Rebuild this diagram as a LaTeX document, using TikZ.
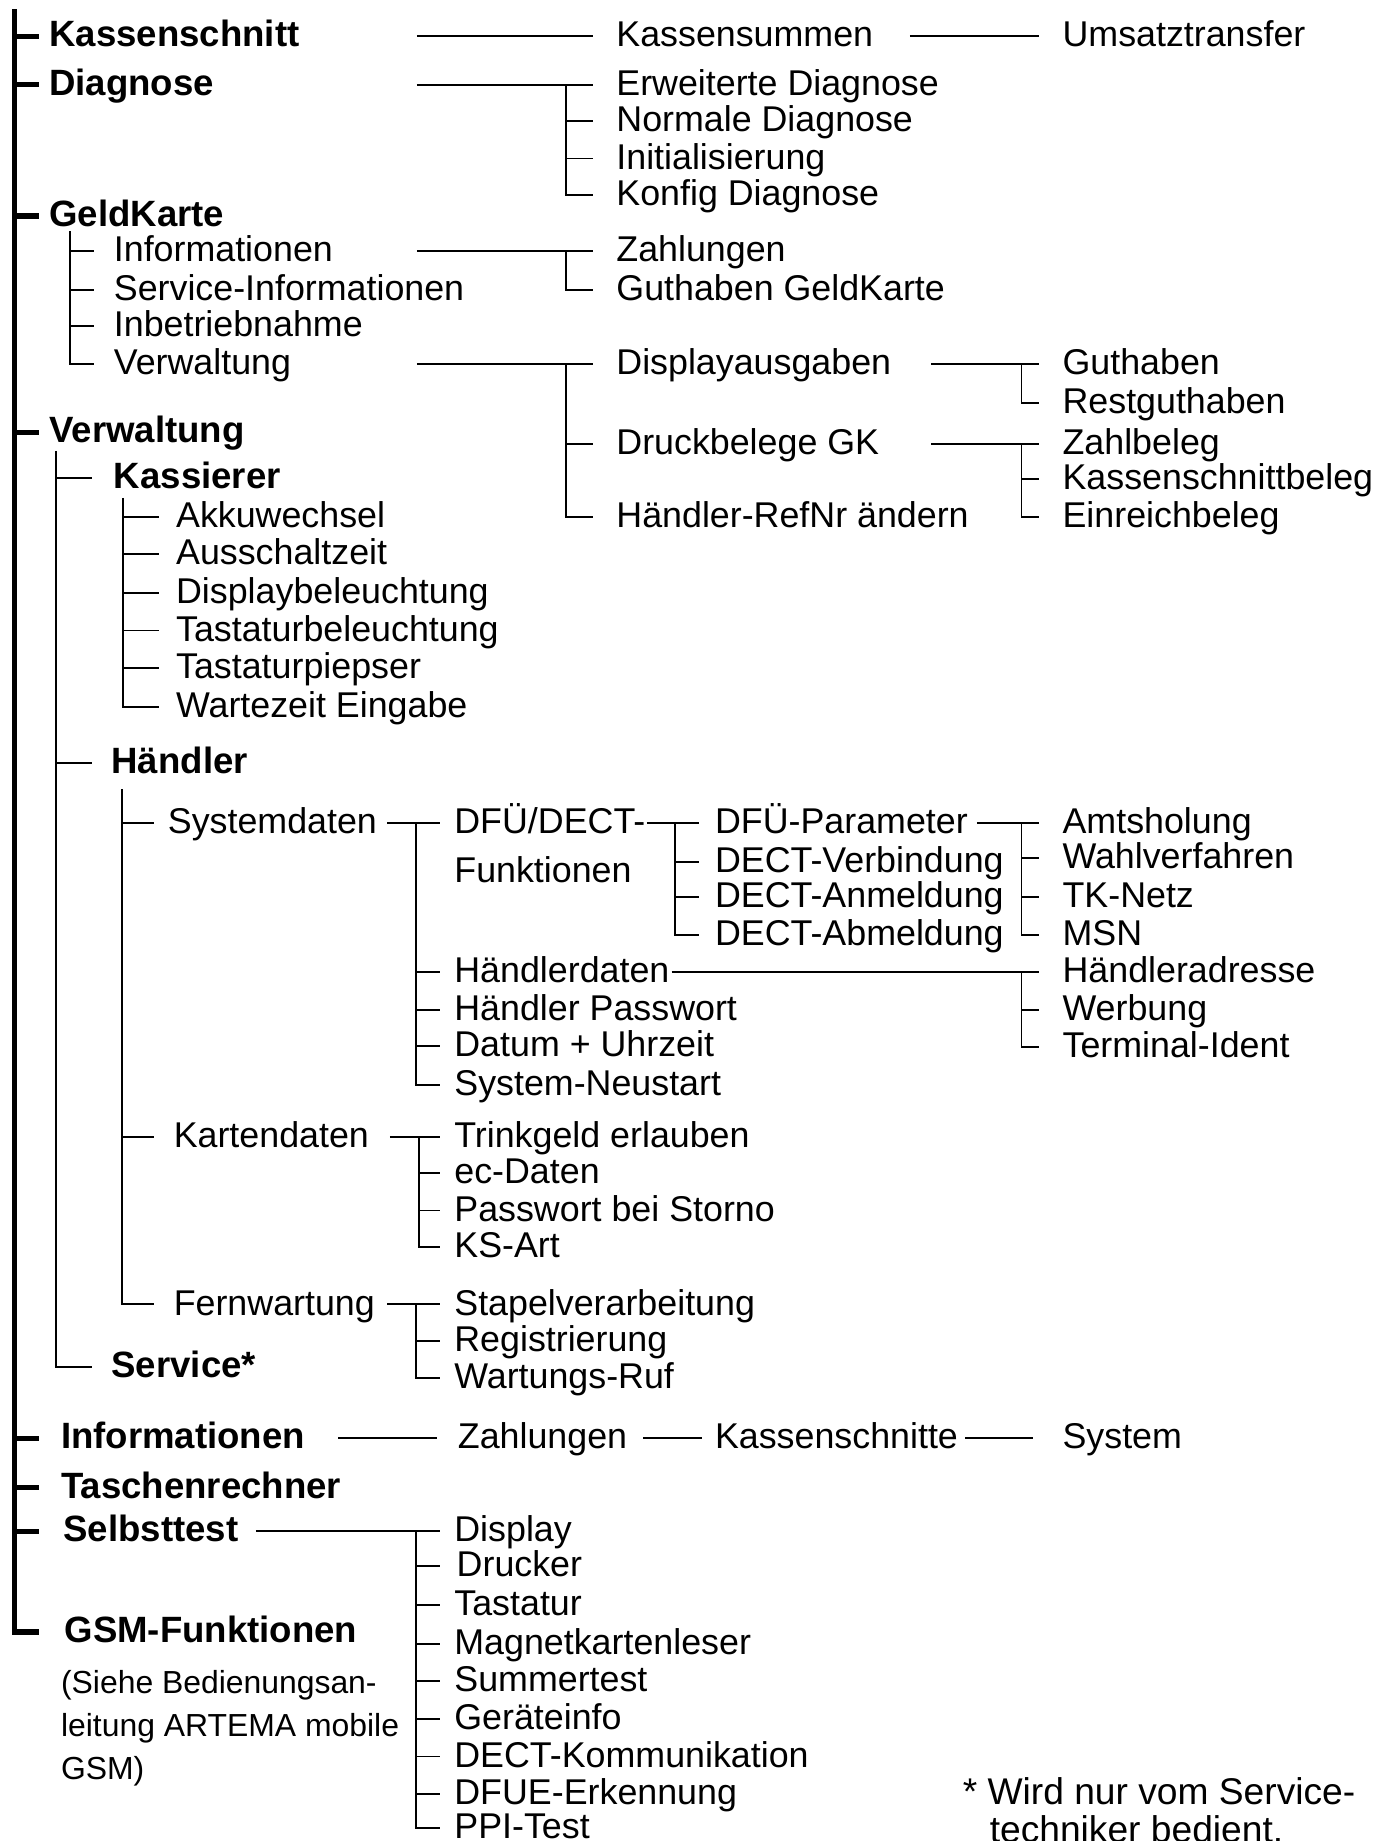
\documentclass[tikz,border=0pt]{standalone}
\usepackage{fontspec}
\setmainfont{Liberation Sans}
\begin{document}
\begin{tikzpicture}[x=0.6pt,y=-0.6pt,
  ln/.style={line width=1pt},
  thk/.style={line width=2.6pt},
  gp/.style={outer xsep=#1*0.6pt},
  it/.style={anchor=west,inner sep=0pt,text height=13.2pt,text depth=2.4pt,font=\fontsize{18.3pt}{22pt}\selectfont,gp=12},
  bt/.style={it,font=\fontsize{18.7pt}{22pt}\selectfont\bfseries},
  nt/.style={it,font=\fontsize{16.3pt}{20pt}\selectfont},
  fn/.style={it,font=\fontsize{19pt}{22pt}\selectfont}]
\useasboundingbox (0,0) rectangle (1172,1568);
% columns
\coordinate (mbar) at (12,0);
\coordinate (mtop) at (12,8);
\coordinate (cA) at (355,0);
\coordinate (bD) at (482,0);
\coordinate (cB) at (775,0);
\coordinate (cC) at (793,0);
\coordinate (bE) at (870,0);
% top level
\node[bt,gp=9] (kass) at (33,31) {Kassenschnitt};
\node[bt,gp=9] (diag) at (33,72) {Diagnose};
\node[bt,gp=9] (geld) at (33,184) {GeldKarte};
\node[bt,gp=9] (verw) at (33,368) {Verwaltung};
\node[bt,gp=19] (info) at (33,1225) {Informationen};
\node[bt,gp=19] (tasch) at (33,1267) {Taschenrechner};
\node[bt,gp=21] (selbst) at (33,1304) {Selbsttest};
\node[bt,gp=22] (gsm) at (33,1390) {GSM-Funktionen};
\draw[thk] (mtop) |- (gsm.west);
\foreach \n in {kass,diag,geld,verw,info,tasch,selbst}
  \draw[thk] (mbar |- \n.west) -- (\n.west);
% Kassenschnitt
\node[it,gp=20] (kassum) at (505,31) {Kassensummen};
\node[it,gp=20] (umsatz) at (885,31) {Umsatztransfer};
\draw[ln] (cA |- kass.west) -- (kassum.west);
\draw[ln] (cB |- kassum.west) -- (umsatz.west);
% Diagnose
\node[it,gp=20] (erw) at (505,72) {Erweiterte Diagnose};
\node[it,gp=20] (norm) at (505,103) {Normale Diagnose};
\node[it,gp=20] (init) at (505,135) {Initialisierung};
\node[it,gp=20] (konf) at (505,166) {Konfig Diagnose};
\draw[ln] (cA |- diag.west) -- (erw.west);
\draw[ln] (bD |- erw.west) |- (konf.west);
\foreach \n in {norm,init} \draw[ln] (bD |- \n.west) -- (\n.west);
% GeldKarte
\coordinate (gtop) at (60,197);
\node[it,gp=17] (infoGK) at (80,214) {Informationen};
\node[it,gp=17] (servinf) at (80,247) {Service-Informationen};
\node[it,gp=17] (inbetr) at (80,278) {Inbetriebnahme};
\node[it,gp=17] (verwGK) at (80,310) {Verwaltung};
\draw[ln] (gtop) |- (verwGK.west);
\foreach \n in {infoGK,servinf,inbetr} \draw[ln] (gtop |- \n.west) -- (\n.west);
\node[it,gp=20] (zahlGK) at (505,214) {Zahlungen};
\node[it,gp=20] (guthGK) at (505,247) {Guthaben GeldKarte};
\draw[ln] (cA |- infoGK.west) -- (zahlGK.west);
\draw[ln] (bD |- zahlGK.west) |- (guthGK.west);
\node[it,gp=20] (disp) at (505,310) {Displayausgaben};
\node[it,gp=20] (druck) at (505,378) {Druckbelege GK};
\node[it,gp=20] (haendref) at (505,440) {Händler-RefNr ändern};
\draw[ln] (cA |- verwGK.west) -- (disp.west);
\draw[ln] (bD |- disp.west) |- (haendref.west);
\draw[ln] (bD |- druck.west) -- (druck.west);
\node[it,gp=20] (guth) at (885,310) {Guthaben};
\node[it,gp=20] (restg) at (885,343) {Restguthaben};
\draw[ln] (cC |- disp.west) -- (guth.west);
\draw[ln] (bE |- guth.west) |- (restg.west);
\node[it,gp=20] (zahlb) at (885,378) {Zahlbeleg};
\node[it,gp=20] (kschb) at (885,408) {Kassenschnittbeleg};
\node[it,gp=20] (einr) at (885,440) {Einreichbeleg};
\draw[ln] (cC |- druck.west) -- (zahlb.west);
\draw[ln] (bE |- zahlb.west) |- (einr.west);
\draw[ln] (bE |- kschb.west) -- (kschb.west);
% Verwaltung
\coordinate (vtop) at (48,384);
\node[bt,gp=19] (kassierer) at (78,407) {Kassierer};
\node[bt,gp=17] (haendler) at (78,650) {Händler};
\node[bt,gp=17] (service) at (78,1164) {Service*};
\draw[ln] (vtop) |- (service.west);
\foreach \n in {kassierer,haendler} \draw[ln] (vtop |- \n.west) -- (\n.west);
% Kassierer
\coordinate (ktop) at (105,424);
\node[it,gp=15] (akku) at (135,440) {Akkuwechsel};
\node[it,gp=15] (aussch) at (135,472) {Ausschaltzeit};
\node[it,gp=15] (dispbel) at (135,505) {Displaybeleuchtung};
\node[it,gp=15] (tastbel) at (135,537) {Tastaturbeleuchtung};
\node[it,gp=15] (tastpiep) at (135,569) {Tastaturpiepser};
\node[it,gp=15] (wartez) at (135,602) {Wartezeit Eingabe};
\draw[ln] (ktop) |- (wartez.west);
\foreach \n in {akku,aussch,dispbel,tastbel,tastpiep} \draw[ln] (ktop |- \n.west) -- (\n.west);
% Haendler
\coordinate (htop) at (104,672);
\node[it,gp=12] (systemd) at (131,701) {Systemdaten};
\node[it,gp=17] (kartend) at (131,968) {Kartendaten};
\node[it,gp=17] (fernw) at (131,1111) {Fernwartung};
\draw[ln] (htop) |- (fernw.west);
\foreach \n in {systemd,kartend} \draw[ln] (htop |- \n.west) -- (\n.west);
% Systemdaten
\coordinate (cS) at (330,0);
\coordinate (bS) at (354,0);
\node[it,gp=12] (dfu) at (375,701) {DFÜ/DECT-};
\node[it,gp=12] (dfuB) at (375,743) {Funktionen};
\node[it,gp=12] (haendd) at (375,828) {Händlerdaten};
\node[it,gp=12] (haendpw) at (375,860) {Händler Passwort};
\node[it,gp=12] (datum) at (375,891) {Datum + Uhrzeit};
\node[it,gp=12] (sysneu) at (375,924) {System-Neustart};
\draw[ln] (cS |- systemd.west) -- (dfu.west);
\draw[ln] (bS |- dfu.west) |- (sysneu.west);
\foreach \n in {haendd,haendpw,datum} \draw[ln] (bS |- \n.west) -- (\n.west);
% DFUE/DECT
\coordinate (cD) at (551,0);
\coordinate (bF) at (575,0);
\node[it,gp=14] (dfupar) at (595,701) {DFÜ-Parameter};
\node[it,gp=14] (dectv) at (595,734) {DECT-Verbindung};
\node[it,gp=14] (decta) at (595,764) {DECT-Anmeldung};
\node[it,gp=14] (decab) at (595,796) {DECT-Abmeldung};
\draw[ln] (cD |- dfu.west) -- (dfupar.west);
\draw[ln] (bF |- dfupar.west) |- (decab.west);
\foreach \n in {dectv,decta} \draw[ln] (bF |- \n.west) -- (\n.west);
% DFUE-Parameter
\coordinate (cP) at (832,0);
\node[it,gp=20] (amts) at (885,701) {Amtsholung};
\node[it,gp=20] (wahl) at (885,731) {Wahlverfahren};
\node[it,gp=20] (tk) at (885,764) {TK-Netz};
\node[it,gp=20] (msn) at (885,796) {MSN};
\draw[ln] (cP |- dfupar.west) -- (amts.west);
\draw[ln] (bE |- amts.west) |- (msn.west);
\foreach \n in {wahl,tk} \draw[ln] (bE |- \n.west) -- (\n.west);
% Haendlerdaten
\coordinate (cH) at (572,0);
\node[it,gp=20] (haendadr) at (885,828) {Händleradresse};
\node[it,gp=20] (werb) at (885,860) {Werbung};
\node[it,gp=20] (term) at (885,892) {Terminal-Ident};
\draw[ln] (cH |- haendd.west) -- (haendadr.west);
\draw[ln] (bE |- haendadr.west) |- (term.west);
\draw[ln] (bE |- werb.west) -- (werb.west);
% Kartendaten
\coordinate (cK) at (332,0);
\coordinate (bK) at (357,0);
\node[it,gp=12] (trink) at (375,968) {Trinkgeld erlauben};
\node[it,gp=12] (ecd) at (375,999) {ec-Daten};
\node[it,gp=12] (pwst) at (375,1031) {Passwort bei Storno};
\node[it,gp=12] (ksart) at (375,1062) {KS-Art};
\draw[ln] (cK |- kartend.west) -- (trink.west);
\draw[ln] (bK |- trink.west) |- (ksart.west);
\foreach \n in {ecd,pwst} \draw[ln] (bK |- \n.west) -- (\n.west);
% Fernwartung
\node[it,gp=12] (stapel) at (375,1111) {Stapelverarbeitung};
\node[it,gp=12] (regis) at (375,1142) {Registrierung};
\node[it,gp=12] (wart) at (375,1174) {Wartungs-Ruf};
\draw[ln] (cS |- fernw.west) -- (stapel.west);
\draw[ln] (bS |- stapel.west) |- (wart.west);
\draw[ln] (bS |- regis.west) -- (regis.west);
% Informationen
\coordinate (cI) at (288,0);
\coordinate (cJ) at (548,0);
\coordinate (cL) at (822,0);
\node[it,gp=18] (zahl2) at (372,1225) {Zahlungen};
\node[it,gp=11] (kassschn) at (598,1225) {Kassenschnitte};
\node[it,gp=25] (system) at (880,1225) {System};
\draw[ln] (cI |- info.west) -- (zahl2.west);
\draw[ln] (cJ |- zahl2.west) -- (kassschn.west);
\draw[ln] (cL |- kassschn.west) -- (system.west);
% Selbsttest
\coordinate (cT) at (218,0);
\node[it,gp=12] (display) at (375,1304) {Display};
\node[it,gp=14] (drucker) at (375,1334) {Drucker};
\node[it,gp=12] (tastatur) at (375,1367) {Tastatur};
\node[it,gp=12] (magnet) at (375,1400) {Magnetkartenleser};
\node[it,gp=12] (summer) at (375,1432) {Summertest};
\node[it,gp=12] (geraete) at (375,1464) {Geräteinfo};
\node[it,gp=12] (dectk) at (375,1496) {DECT-Kommunikation};
\node[it,gp=12] (dfue) at (375,1528) {DFUE-Erkennung};
\node[it,gp=12] (ppi) at (375,1557) {PPI-Test};
\draw[ln] (cT |- selbst.west) -- (display.west);
\draw[ln] (bS |- display.west) |- (ppi.west);
\foreach \n in {drucker,tastatur,magnet,summer,geraete,dectk,dfue} \draw[ln] (bS |- \n.west) -- (\n.west);
% GSM note
\node[nt,gp=0] (gn1) at (52,1433) {(Siehe Bedienungsan-};
\node[nt,gp=0] (gn2) at (52,1470) {leitung ARTEMA mobile};
\node[nt,gp=0] (gn3) at (52,1507) {GSM)};
% footnote
\node[fn,gp=0] (fn1) at (820,1528) {* Wird nur vom Service-};
\node[fn,gp=0] (fn2) at (843,1560) {techniker bedient.};
\end{tikzpicture}
\end{document}
